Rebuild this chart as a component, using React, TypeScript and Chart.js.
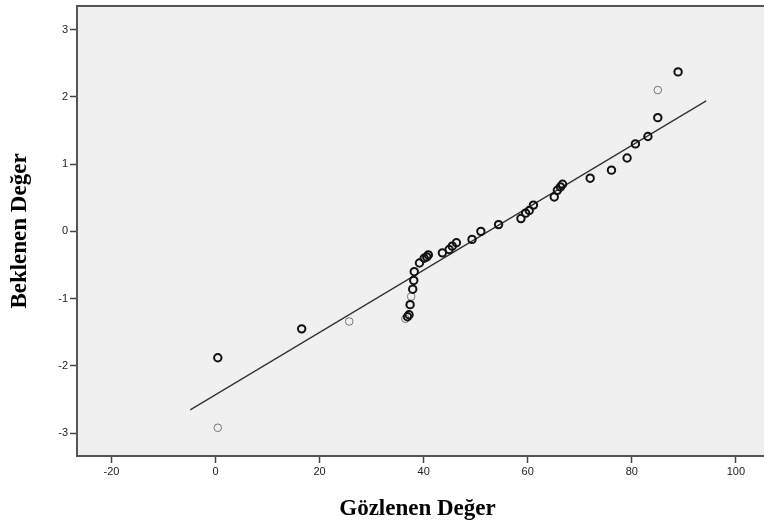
import React, { useEffect, useRef } from 'react';
import { Chart, registerables } from 'chart.js';

Chart.register(...registerables);

// Observed (x) / expected normal (y) pairs, darker (overlapping) markers
const boldX = [0.44, 16.56, 36.9, 37.2, 37.4, 37.9, 38.1, 38.2, 39.2, 40.1, 40.6, 40.9, 43.6, 44.9, 45.5, 46.3, 49.3, 51.0, 54.4, 58.7, 59.6, 60.3, 61.1, 65.1, 65.7, 66.3, 66.7, 72.0, 76.1, 79.1, 80.7, 83.1, 85.0, 88.9];
const boldY = [-1.88, -1.45, -1.27, -1.24, -1.09, -0.86, -0.73, -0.6, -0.47, -0.4, -0.38, -0.35, -0.32, -0.27, -0.22, -0.17, -0.12, 0.0, 0.1, 0.19, 0.27, 0.31, 0.39, 0.51, 0.61, 0.66, 0.7, 0.79, 0.91, 1.09, 1.3, 1.41, 1.69, 2.37];

// Single (lighter) markers
const lightX = [0.44, 25.7, 36.5, 37.6, 85.0];
const lightY = [-2.92, -1.34, -1.3, -0.97, 2.1];

// Reference line end points
const lineX = [-4.86, 94.3];
const lineY = [-2.654, 1.94];

const xTicks = [-20, 0, 20, 40, 60, 80, 100];
const yTicks = [-3, -2, -1, 0, 1, 2, 3];

const xTitle = 'Gözlenen Değer';
const yTitle = 'Beklenen Değer';

const framePlugin = {
  id: 'frame',
  beforeDraw(chart: any) {
    const { ctx, chartArea: a } = chart;
    ctx.save();
    ctx.fillStyle = '#F0F0F0';
    ctx.fillRect(a.left, a.top, chart.width - a.left, a.bottom - a.top);
    ctx.restore();
  },
  afterDraw(chart: any) {
    const { ctx, chartArea: a } = chart;
    ctx.save();
    ctx.strokeStyle = '#555555';
    ctx.lineWidth = 2;
    ctx.beginPath();
    ctx.moveTo(chart.width + 2, a.top);
    ctx.lineTo(a.left, a.top);
    ctx.lineTo(a.left, a.bottom);
    ctx.lineTo(chart.width + 2, a.bottom);
    ctx.stroke();
    ctx.restore();
  },
};

export default function App() {
  const ref = useRef<HTMLCanvasElement>(null);

  useEffect(() => {
    document.body.style.margin = '0';
    const tickFont = { family: 'Liberation Sans', size: 11 };
    const titleFont = { family: 'Liberation Serif', size: 23, weight: 'bold' as const };
    const chart = new Chart(ref.current!, {
      type: 'scatter',
      data: {
        datasets: [
          {
            type: 'line',
            data: lineX.map((x, i) => ({ x, y: lineY[i] })),
            borderColor: '#333333',
            borderWidth: 1.3,
            pointRadius: 0,
            fill: false,
            order: 3,
          } as any,
          {
            data: lightX.map((x, i) => ({ x, y: lightY[i] })),
            pointRadius: 3.8,
            pointBorderWidth: 1,
            pointBorderColor: '#777777',
            pointBackgroundColor: 'rgba(0,0,0,0)',
            order: 2,
          },
          {
            data: boldX.map((x, i) => ({ x, y: boldY[i] })),
            pointRadius: 3.7,
            pointBorderWidth: 2,
            pointBorderColor: '#111111',
            pointBackgroundColor: 'rgba(0,0,0,0)',
            order: 1,
          },
        ],
      },
      options: {
        animation: false,
        responsive: false,
        devicePixelRatio: 1,
        layout: { padding: { top: 6, left: 0, right: 0, bottom: 0 } },
        plugins: { legend: { display: false }, tooltip: { enabled: false } },
        scales: {
          x: {
            type: 'linear',
            min: -26.62,
            max: 104.26,
            afterBuildTicks: (s: any) => {
              s.ticks = xTicks.map((v) => ({ value: v }));
            },
            afterFit: (s: any) => {
              s.height = 72;
              s.paddingLeft = 0;
              s.paddingRight = 0;
            },
            grid: { display: true, drawOnChartArea: false, drawTicks: true, tickLength: 7, tickColor: '#444444', tickWidth: 1.5 },
            border: { display: false },
            ticks: { color: '#222222', font: tickFont, padding: 2, maxRotation: 0, autoSkip: false },
            title: { display: true, text: xTitle, font: titleFont, color: '#000000', padding: { top: 0, bottom: 5 } },
          },
          y: {
            type: 'linear',
            min: -3.34,
            max: 3.35,
            afterBuildTicks: (s: any) => {
              s.ticks = yTicks.map((v) => ({ value: v }));
            },
            afterFit: (s: any) => {
              s.width = 77;
              s.paddingTop = 0;
              s.paddingBottom = 0;
            },
            grid: { display: true, drawOnChartArea: false, drawTicks: true, tickLength: 7, tickColor: '#444444', tickWidth: 1.5 },
            border: { display: false },
            ticks: { color: '#222222', font: tickFont, padding: 2, autoSkip: false },
            title: { display: true, text: yTitle, font: titleFont, color: '#000000', padding: { top: 6, bottom: 0 } },
          },
        },
      },
      plugins: [framePlugin],
    });
    return () => chart.destroy();
  }, []);

  return (
    <div style={{ position: 'fixed', left: 0, top: 0, width: 764, height: 528, overflow: 'hidden', background: '#ffffff' }}>
      <canvas ref={ref} width={764} height={528} style={{ width: 764, height: 528, display: 'block' }} />
    </div>
  );
}
